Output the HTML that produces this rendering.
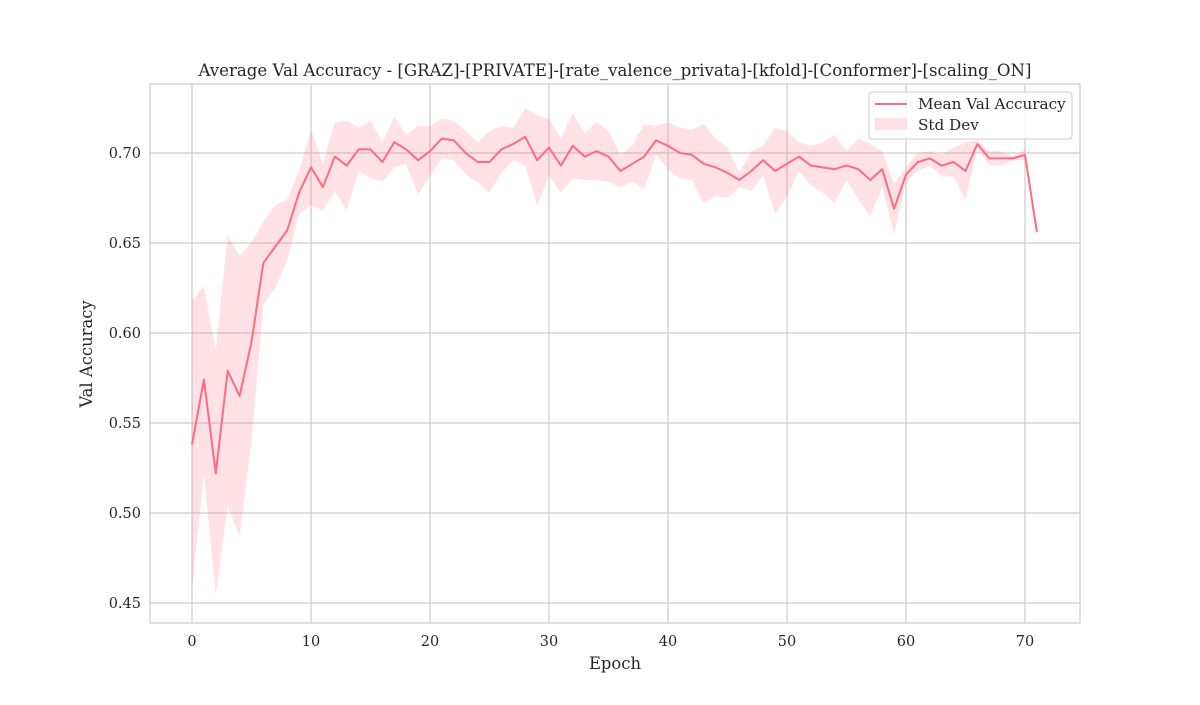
<!DOCTYPE html>
<html><head><meta charset="utf-8"><style>
body{margin:0;background:#fff;}
svg text{font-family:"DejaVu Serif","Liberation Serif",serif;fill:#262626;}
</style></head><body>
<svg id="chart" width="1200" height="700" xmlns="http://www.w3.org/2000/svg">
<rect width="1200" height="700" fill="#fff"/>
<g id="grid"></g>
<g id="band"></g>
<g id="line"></g>
<rect x="150" y="84" width="930" height="539" fill="none" stroke="#ccc" stroke-width="1.2"/>
<g id="ticks"></g>
<text x="615" y="76" font-size="16.6" text-anchor="middle">Average Val Accuracy - [GRAZ]-[PRIVATE]-[rate_valence_privata]-[kfold]-[Conformer]-[scaling_ON]</text>
<text x="615" y="669" font-size="16.4" text-anchor="middle">Epoch</text>
<text transform="translate(92,354) rotate(-90)" font-size="16.4" text-anchor="middle">Val Accuracy</text>
<g>
<rect x="869" y="92" width="203" height="47" rx="3" fill="#fff" fill-opacity="0.85" stroke="#ccc"/>
<line x1="875" y1="104" x2="907" y2="104" stroke="#ff6b81" stroke-width="2"/>
<rect x="875" y="118" width="32" height="12" fill="#ff6b81" fill-opacity="0.2"/>
<text x="918" y="109" font-size="15.2">Mean Val Accuracy</text>
<text x="918" y="130" font-size="15.2">Std Dev</text>
</g>
</svg>
<script>
const epochs=[];for(let i=0;i<72;i++)epochs.push(i);
const meanAcc=[0.538,0.574,0.522,0.579,0.565,0.595,0.639,0.648,0.657,0.678,0.692,0.681,0.698,0.693,0.702,0.702,0.695,0.706,0.702,0.696,0.701,0.708,0.707,0.700,0.695,0.695,0.702,0.705,0.709,0.696,0.703,0.693,0.704,0.698,0.701,0.698,0.690,0.694,0.698,0.707,0.704,0.700,0.699,0.694,0.692,0.689,0.685,0.690,0.696,0.690,0.694,0.698,0.693,0.692,0.691,0.693,0.691,0.685,0.691,0.669,0.688,0.695,0.697,0.693,0.695,0.690,0.705,0.697,0.697,0.697,0.699,0.656];
const stdAcc=[0.080,0.052,0.068,0.075,0.078,0.055,0.023,0.023,0.017,0.012,0.021,0.013,0.019,0.025,0.012,0.016,0.011,0.014,0.008,0.019,0.014,0.011,0.011,0.012,0.011,0.017,0.013,0.009,0.016,0.025,0.016,0.015,0.018,0.013,0.016,0.014,0.009,0.010,0.018,0.008,0.013,0.014,0.014,0.022,0.016,0.014,0.004,0.011,0.008,0.024,0.018,0.008,0.011,0.014,0.019,0.008,0.017,0.020,0.010,0.014,0.004,0.005,0.004,0.006,0.008,0.016,0.002,0.004,0.004,0.001,0.003,0];
const xTicks=[0,10,20,30,40,50,60,70];
const yTicks=[0.45,0.50,0.55,0.60,0.65,0.70];
const NS='http://www.w3.org/2000/svg';
const X=v=>192+v*(1025-192)/70;
const Y=v=>153+(0.70-v)*1800;
function mk(t,a,p){const e=document.createElementNS(NS,t);for(const k in a)e.setAttribute(k,a[k]);document.getElementById(p).appendChild(e);return e;}
xTicks.forEach(t=>{
 const l=mk('line',{x1:X(t),x2:X(t),y1:84,y2:623,stroke:'#ccc','stroke-width':1.2},'grid');
 
 
 const tx=mk('text',{x:X(t),y:646,'font-size':14.5,'text-anchor':'middle'},'ticks');tx.textContent=t;
 
 
});
yTicks.forEach(t=>{
 const l=mk('line',{x1:150,x2:1080,y1:Y(t),y2:Y(t),stroke:'#ccc','stroke-width':1.2},'grid');
 
 
 const tx=mk('text',{x:141,y:Y(t)+5,'font-size':14.5,'text-anchor':'end'},'ticks');tx.textContent=t.toFixed(2);
 
 
});
let up=epochs.map((e,i)=>X(e)+','+Y(meanAcc[i]+stdAcc[i]));
let lo=epochs.map((e,i)=>X(e)+','+Y(meanAcc[i]-stdAcc[i])).reverse();
const b=mk('polygon',{points:up.concat(lo).join(' '),fill:'#ff6b81','fill-opacity':0.2},'band');


const ln=mk('polyline',{points:epochs.map((e,i)=>X(e)+','+Y(meanAcc[i])).join(' '),fill:'none',stroke:'#ff6b81','stroke-width':2,'stroke-linejoin':'round'},'line');


</script>
</body></html>
